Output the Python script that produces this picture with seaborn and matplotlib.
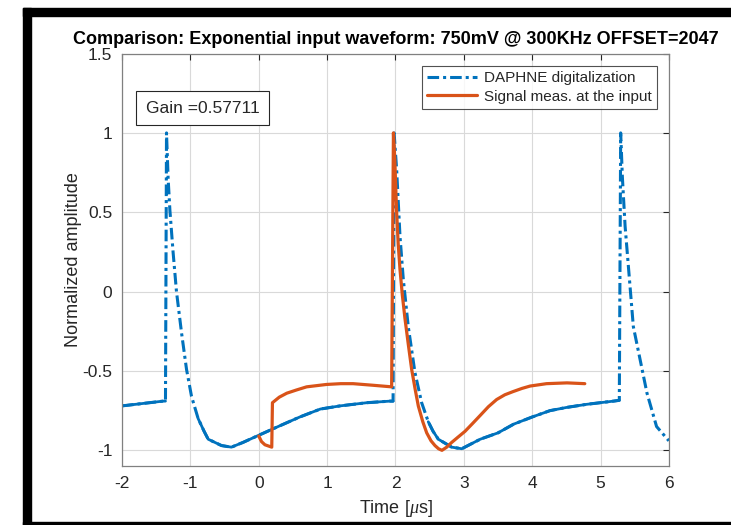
import numpy as np
import pandas as pd
import matplotlib
matplotlib.use('Agg')
import matplotlib.pyplot as plt
from matplotlib.patches import Rectangle
from matplotlib.ticker import FuncFormatter
import seaborn as sns

# ========== 数据 ==========
daphne_t = [-2.0, -1.8, -1.6, -1.40, -1.365, -1.35, -1.326, -1.30, -1.253, -1.204,
            -1.13, -1.057, -0.984, -0.887, -0.80, -0.74, -0.545, -0.40, -0.23, 0.0,
            0.31, 0.60, 0.90, 1.19, 1.58, 1.92, 1.965, 1.98, 2.017, 2.066,
            2.114, 2.187, 2.285, 2.383, 2.48, 2.55, 2.627, 2.823, 2.97, 3.24,
            3.50, 3.73, 4.00, 4.26, 4.50, 4.80, 5.19, 5.275, 5.295, 5.32,
            5.36, 5.48, 5.68, 5.82, 6.0]
daphne_v = [-0.72, -0.71, -0.70, -0.69, -0.69, 1.0, 0.71, 0.51, 0.245, 0.0,
            -0.26, -0.49, -0.66, -0.80, -0.88, -0.93, -0.97, -0.98, -0.95, -0.905,
            -0.845, -0.79, -0.74, -0.72, -0.70, -0.69, -0.69, 1.0, 0.77, 0.35,
            0.08, -0.22, -0.51, -0.70, -0.82, -0.88, -0.93, -0.98, -0.99, -0.93,
            -0.89, -0.835, -0.79, -0.75, -0.73, -0.71, -0.69, -0.685, 1.0, 0.72,
            0.41, -0.22, -0.64, -0.85, -0.94]

input_t = [0.0, 0.04, 0.09, 0.19, 0.20, 0.30, 0.41, 0.55, 0.70, 0.99,
           1.20, 1.38, 1.67, 1.944, 1.97, 1.99, 2.017, 2.04, 2.066, 2.10,
           2.139, 2.19, 2.237, 2.29, 2.334, 2.40, 2.457, 2.52, 2.578, 2.63,
           2.68, 2.75, 2.823, 2.92, 3.018, 3.13, 3.24, 3.36, 3.48, 3.60,
           3.72, 3.85, 3.97, 4.21, 4.51, 4.77]
input_v = [-0.91, -0.945, -0.965, -0.98, -0.70, -0.665, -0.64, -0.62, -0.60, -0.585,
           -0.58, -0.58, -0.59, -0.60, 1.0, 0.83, 0.50, 0.30, 0.14, -0.02,
           -0.17, -0.34, -0.49, -0.62, -0.72, -0.82, -0.89, -0.94, -0.97, -0.99,
           -1.0, -0.98, -0.95, -0.915, -0.88, -0.83, -0.78, -0.725, -0.68, -0.65,
           -0.63, -0.61, -0.595, -0.58, -0.575, -0.58]

x_ticks = [-2, -1, 0, 1, 2, 3, 4, 5, 6]
y_ticks = [-1, -0.5, 0, 0.5, 1, 1.5]
gain = 0.57711

daphne_df = pd.DataFrame({'t': daphne_t, 'v': daphne_v})
input_df = pd.DataFrame({'t': input_t, 'v': input_v})

# slow (noisy) baseline stretches of the DAPHNE trace look solid in the original
slow_ranges = [(-2.0, -1.365), (-0.887, 1.965), (2.48, 5.275)]
slow_parts = []
for k, (a, b) in enumerate(slow_ranges):
    part = daphne_df[(daphne_df['t'] >= a) & (daphne_df['t'] <= b)].copy()
    part['seg'] = k
    slow_parts.append(part)
slow_df = pd.concat(slow_parts, ignore_index=True)

# ========== 样式 ==========
sns.set_style('white')
plt.rcParams['font.family'] = ['Liberation Sans', 'DejaVu Sans']
plt.rcParams['axes.unicode_minus'] = False
plt.rcParams['mathtext.fontset'] = 'custom'
plt.rcParams['mathtext.it'] = 'Liberation Serif:italic'

blue = '#0072BD'
orange = '#D95319'
axis_gray = '#262626'

fig = plt.figure(figsize=(7.31, 5.25), dpi=100)
ax = fig.add_axes([0.167, 0.112, 0.748, 0.786])

sns.lineplot(data=daphne_df, x='t', y='v', sort=False, estimator=None,
             color=blue, linewidth=2.2, label='DAPHNE digitalization', ax=ax)
ax.lines[0].set_dashes([3.8, 1.3, 1.0, 1.3])
sns.lineplot(data=slow_df, x='t', y='v', units='seg', sort=False, estimator=None,
             color=blue, linewidth=2.0, legend=False, ax=ax)
sns.lineplot(data=input_df, x='t', y='v', sort=False, estimator=None,
             color=orange, linewidth=2.3, label='Signal meas. at the input', ax=ax)

ax.set_xlim(-2, 6)
ax.set_ylim(-1.1, 1.5)
ax.set_xticks(x_ticks)
ax.set_yticks(y_ticks)
ax.yaxis.set_major_formatter(FuncFormatter(lambda v, p: f'{v:g}'))
ax.xaxis.set_major_formatter(FuncFormatter(lambda v, p: f'{v:g}'))
ax.grid(True, color='#d9d9d9', linewidth=0.8)
ax.tick_params(direction='in', top=True, right=True, length=4, width=0.8,
               color=axis_gray, labelcolor=axis_gray, labelsize=12.5, pad=7)
for sp in ax.spines.values():
    sp.set_visible(True)
    sp.set_color('#808080')
    sp.set_linewidth(0.9)

ax.set_title('Comparison: Exponential input waveform: 750mV @ 300KHz OFFSET=2047',
             fontsize=13, fontweight='bold', pad=7, color='black')
ax.set_xlabel(r'Time [$\mu$s]', fontsize=13, color=axis_gray, labelpad=5)
ax.set_ylabel('Normalized amplitude', fontsize=13, color=axis_gray, labelpad=0)

leg = ax.legend(loc='upper right', fontsize=11, frameon=True, fancybox=False,
                handlelength=3.3, borderpad=0.35, labelspacing=0.3,
                handletextpad=0.4, borderaxespad=0.8)
leg.get_frame().set_edgecolor('#262626')
leg.get_frame().set_linewidth(0.8)

ax.text(0.043, 0.868, f'Gain ={gain}', transform=ax.transAxes, fontsize=12.5,
        va='center', ha='left', color=axis_gray,
        bbox=dict(boxstyle='square,pad=0.55', facecolor='white',
                  edgecolor='#262626', linewidth=0.8))

# black screenshot frame
fig.patches.append(Rectangle((0.0315, 0.9695), 1.0, 0.0153, transform=fig.transFigure,
                             color='black', zorder=10))
fig.patches.append(Rectangle((0.0315, 0.0), 0.0109, 0.9848, transform=fig.transFigure,
                             color='black', zorder=10))
fig.patches.append(Rectangle((0.0315, 0.0), 1.0, 0.0057, transform=fig.transFigure,
                             color='black', zorder=10))

plt.savefig('out.png', dpi=100)
